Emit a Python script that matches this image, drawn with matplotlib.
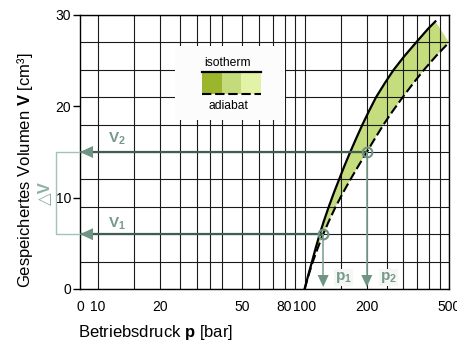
import matplotlib
matplotlib.use("Agg")
import matplotlib.pyplot as plt
import matplotlib.transforms as mtransforms
from matplotlib.patches import Polygon, Rectangle
from matplotlib.ticker import FixedLocator, NullLocator

plt.rcParams['font.family'] = ['Liberation Sans', 'DejaVu Sans']
plt.rcParams['mathtext.fontset'] = 'custom'
plt.rcParams['mathtext.rm'] = 'Liberation Sans'
plt.rcParams['mathtext.bf'] = 'Liberation Sans:bold'
plt.rcParams['mathtext.it'] = 'Liberation Sans:italic'

# Isotherm of the accumulator: pressure [bar] vs. stored volume [cm³]
p_iso = [100, 104.1, 108.6, 113.2, 118.3, 124.2, 130.9, 138.4, 146.9, 156.0,
         166.3, 177.8, 190.5, 205.1, 221.8, 243.8, 269.8, 304.1, 346.7,
         396.3, 429.5]
v_iso = [0, 1.5, 3, 4.5, 6, 7.5, 9, 10.5, 12, 13.5, 15, 16.5, 18, 19.5, 21,
         22.5, 24, 25.5, 27, 28.5, 29.3]

# Adiabat of the accumulator
p_adi = [100, 104.5, 109.6, 115.9, 123, 131.5, 141.3, 153.1, 166.7, 182.4,
         200, 219.3, 241, 267.3, 298.5, 335, 378.4, 432.5, 500]
v_adi = [0, 1.5, 3, 4.5, 6, 7.5, 9, 10.5, 12, 13.5, 15, 16.5, 18, 19.5, 21,
         22.5, 24, 25.5, 27]

# working points
p1, v1 = 123, 6
p2, v2 = 200, 15

p_min, p_max = 8.18, 500
p_grid = [10, 15, 20, 25, 30, 35, 40, 50, 60, 70, 80, 90, 100,
          150, 200, 250, 300, 350, 400, 450, 500]
v_grid = [0, 3, 6, 9, 12, 15, 18, 21, 24, 27, 30]
x_ticks = [p_min, 10, 20, 50, 80, 100, 200, 500]
x_labels = ['0', '10', '20', '50', '80', '100', '200', '500']
y_ticks = [0, 10, 20, 30]

band_color = '#c5dd7c'
swatch_colors = ['#9bb52c', '#c3db7a', '#e2f2a6']
arrow_dark = '#3f5d51'
arrow_light = '#6f9484'
label_green = '#76998a'
bracket_green = '#a3c2b5'

fig = plt.figure(figsize=(4.57, 3.40), dpi=100)
ax = fig.add_axes([80 / 457, 51 / 340, 369 / 457, 274 / 340])
ax.set_xscale('log')
ax.set_xlim(p_min, p_max)
ax.set_ylim(0, 30)

# grid
for p in p_grid:
    ax.axvline(p, color='#1a1a1a', lw=0.8, zorder=1)
for v in v_grid:
    ax.axhline(v, color='#1a1a1a', lw=0.8, zorder=1)

ax.xaxis.set_major_locator(FixedLocator(x_ticks))
ax.xaxis.set_minor_locator(NullLocator())
ax.set_xticklabels(x_labels)
ax.set_yticks(y_ticks)
ax.tick_params(axis='x', length=0, pad=8, labelsize=10)
ax.tick_params(axis='y', length=5, width=1, pad=1.5, labelsize=10, direction='out')
for s in ax.spines.values():
    s.set_linewidth(1.0)
    s.set_color('black')

# band between isotherm and adiabat
ax.fill(p_iso + p_adi[::-1], v_iso + v_adi[::-1], color=band_color, lw=0, zorder=0.5)
ax.plot(p_iso, v_iso, color='black', lw=1.6, zorder=4)
ax.plot(p_adi, v_adi, color='black', lw=1.5, ls=(0, (4.5, 1.8)), zorder=4)


def head(x, y, verts_px, color):
    tr = fig.dpi_scale_trans + mtransforms.ScaledTranslation(x, y, ax.transData)
    poly = Polygon([(vx / 100, vy / 100) for vx, vy in verts_px], closed=True,
                   transform=tr, facecolor=color, edgecolor='none', zorder=6,
                   clip_on=False)
    ax.add_patch(poly)


# volume arrows to the axis
for pv, vv in [(p1, v1), (p2, v2)]:
    ax.plot([pv, p_min], [vv, vv], color=arrow_dark, lw=1.6, zorder=5,
            solid_capstyle='butt')
    head(p_min, vv, [(0, 0), (13, 6), (13, -6)], arrow_light)

# pressure arrows down to the axis
for pv, vv in [(p1, v1), (p2, v2)]:
    ax.plot([pv, pv], [vv, 0.5], color='#82a596', lw=1.2, zorder=5,
            solid_capstyle='butt')
    head(pv, 0, [(0, 2), (-5.5, 14), (5.5, 14)], arrow_light)

ax.plot([p1, p2], [v1, v2], ls='none', marker='o', ms=7, mfc='none',
        mec='#6e9385', mew=1.5, zorder=7)

ax.text(12.3, 16.4, r'$\mathbf{V_2}$', color=label_green, fontsize=11,
        ha='center', va='center', zorder=6)
ax.text(12.3, 7.1, r'$\mathbf{V_1}$', color=label_green, fontsize=11,
        ha='center', va='center', zorder=6)
ax.text(140, 1.3, r'$\mathbf{p_1}$', color=label_green, fontsize=11,
        ha='left', va='center', zorder=6,
        bbox=dict(fc='#f6f7f5', ec='none', pad=0.8))
ax.text(231, 1.3, r'$\mathbf{p_2}$', color=label_green, fontsize=11,
        ha='left', va='center', zorder=6,
        bbox=dict(fc='#f6f7f5', ec='none', pad=0.8))

# delta-V bracket left of the axis
btr = mtransforms.blended_transform_factory(ax.transAxes, ax.transData)
ax.plot([-0.006, -0.065, -0.065, -0.006], [v2, v2, v1, v1], transform=btr,
        color=bracket_green, lw=1.0, clip_on=False)
ax.text(-0.094, (v1 + v2) / 2, '△V', transform=btr, rotation=90,
        color='#8fb0a2', fontsize=12, fontweight='bold',
        ha='center', va='center', clip_on=False)

# legend box
ax.add_patch(Rectangle((0.257, 0.617), 0.299, 0.27, transform=ax.transAxes,
                       facecolor='#fcfcfc', edgecolor='none', zorder=3))
ax.text(0.401, 0.826, 'isotherm', transform=ax.transAxes, fontsize=8.7,
        ha='center', va='center', zorder=4)
ax.text(0.401, 0.668, 'adiabat', transform=ax.transAxes, fontsize=8.7,
        ha='center', va='center', zorder=4)
sx = [0.331, 0.385, 0.436, 0.4905]
for i, c in enumerate(swatch_colors):
    ax.add_patch(Rectangle((sx[i], 0.712), sx[i + 1] - sx[i], 0.080,
                           transform=ax.transAxes, facecolor=c,
                           edgecolor='none', zorder=4))
ax.plot([sx[0], sx[-1]], [0.792, 0.792], transform=ax.transAxes,
        color='black', lw=1.6, zorder=5)
ax.plot([sx[0], sx[-1]], [0.712, 0.712], transform=ax.transAxes,
        color='black', lw=1.5, ls=(0, (4.5, 1.8)), zorder=5)

# axis titles
fig.text(30 / 457, 0.5, r'Gespeichertes Volumen $\mathbf{V}$ [cm³]',
         rotation=90, rotation_mode='anchor', ha='center', va='baseline',
         fontsize=12)
fig.text(78 / 457, 3.5 / 340, r'Betriebsdruck $\mathbf{p}$ [bar]',
         ha='left', va='baseline', fontsize=12)

fig.savefig('out.png', dpi=100)
